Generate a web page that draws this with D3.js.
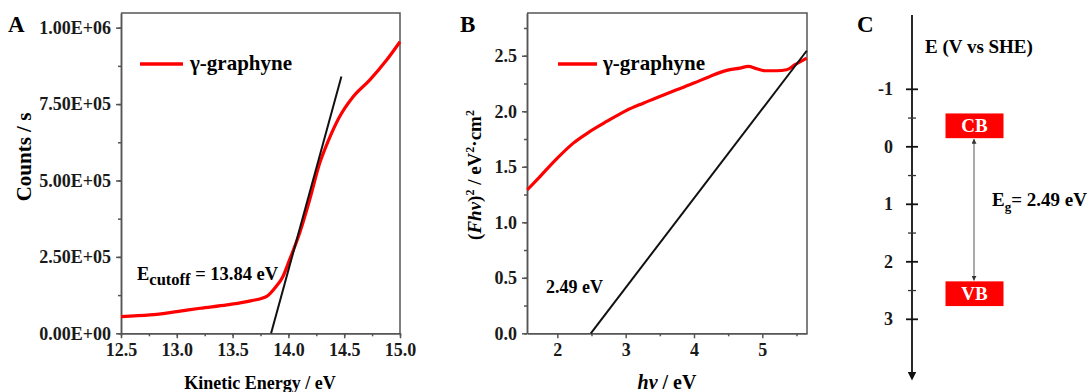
<!DOCTYPE html>
<html>
<head>
<meta charset="utf-8">
<script src="https://cdn.jsdelivr.net/npm/d3@7"></script>
<style>
  body { margin: 0; background: #fff; }
  svg { display: block; font-family: "Liberation Serif", "Times New Roman", serif; font-weight: bold; }
  svg text { font-family: "Liberation Serif", "Times New Roman", serif; font-weight: bold; }
</style>
</head>
<body>
<div id="chart"></div>
<script>
// Panel A: kinetic energy (eV) vs counts / s
const energyA = [12.5, 12.76, 13.0, 13.21, 13.45, 13.66, 13.81, 13.89, 13.95, 14.01, 14.10, 14.19, 14.28, 14.36, 14.45, 14.58, 14.73, 14.88, 15.0];
const countsA = [54500, 60000, 71000, 82000, 93000, 106000, 122000, 153000, 185000, 240000, 327000, 436000, 556000, 632000, 703000, 774000, 829000, 894000, 954000];
const fitA = [[13.845, 0], [14.475, 840000]];
const ticksYA = [0, 250000, 500000, 750000, 1000000];
const ticksXA = [12.5, 13.0, 13.5, 14.0, 14.5, 15.0];

// Panel B: hv (eV) vs (Fhv)^2
const energyB = [1.56, 1.746, 2.0, 2.234, 2.478, 2.722, 3.0, 3.259, 3.5, 3.746, 4.0, 4.234, 4.478, 4.673, 4.795, 4.917, 5.04, 5.21, 5.356, 5.478, 5.649];
const valueB = [1.292, 1.412, 1.578, 1.713, 1.818, 1.908, 2.004, 2.073, 2.133, 2.193, 2.254, 2.314, 2.368, 2.389, 2.404, 2.383, 2.365, 2.365, 2.374, 2.419, 2.479];
const fitB = [[2.49, 0], [5.65, 2.545]];
const ticksYB = [0, 0.5, 1.0, 1.5, 2.0, 2.5];
const ticksXB = [2, 3, 4, 5];

// Panel C: band positions (V vs SHE)
const ticksC = [-1, 0, 1, 2, 3];
const bands = [
  { label: "CB", top: -0.58, bottom: -0.15 },
  { label: "VB", top: 2.34, bottom: 2.77 }
];

const width = 1091, height = 392;
const axisColor = "#555";
const red = "#ff0000";

const svg = d3.select("#chart").append("svg")
    .attr("width", width)
    .attr("height", height)
    .attr("viewBox", [0, 0, width, height]);

// strip d3's default axis font so the serif style applies
function styleAxis(a) {
  a.attr("font-family", null).attr("font-size", null);
  a.selectAll("line,path").attr("stroke", axisColor).attr("stroke-width", 1.5);
  a.selectAll("text").attr("font-size", 18).attr("fill", "#1a1a1a");
}

function frame(x, y, xTicks, yTicks, xMinor, yMinor, xFormat, yFormat) {
  const [x0, x1] = x.range();
  const [y0, y1] = y.range();
  const g = svg.append("g");

  g.append("g")
      .attr("transform", `translate(0,${y0})`)
      .call(d3.axisBottom(x).tickValues(xMinor).tickSize(3).tickFormat("").tickSizeOuter(0))
      .call(styleAxis);
  g.append("g")
      .attr("transform", `translate(0,${y0})`)
      .call(d3.axisBottom(x).tickValues(xTicks).tickSize(5).tickPadding(5).tickFormat(xFormat).tickSizeOuter(0))
      .call(styleAxis);

  g.append("g")
      .attr("transform", `translate(${x0},0)`)
      .call(d3.axisLeft(y).tickValues(yMinor).tickSize(3).tickFormat("").tickSizeOuter(0))
      .call(styleAxis);
  g.append("g")
      .attr("transform", `translate(${x0},0)`)
      .call(d3.axisLeft(y).tickValues(yTicks).tickSize(5).tickPadding(5).tickFormat(yFormat).tickSizeOuter(0))
      .call(styleAxis);

  // top and right edges of the box
  g.append("path")
      .attr("d", `M${x0},${y1}H${x1}V${y0}`)
      .attr("fill", "none")
      .attr("stroke", axisColor)
      .attr("stroke-width", 1.5);
}

function legend(x, y, x2, tx) {
  svg.append("line")
      .attr("x1", x).attr("x2", x2).attr("y1", y).attr("y2", y)
      .attr("stroke", red).attr("stroke-width", 3.5);
  svg.append("text")
      .attr("x", tx).attr("y", y + 6)
      .attr("font-size", 21)
      .text("γ-graphyne");
}

function sci(d) {
  if (d === 0) return "0.00E+00";
  const e = Math.floor(Math.log10(d));
  return (d / Math.pow(10, e)).toFixed(2) + "E+" + String(e).padStart(2, "0");
}

// ---------- Panel A ----------
const xA = d3.scaleLinear([12.5, 15], [121, 400]);
const yA = d3.scaleLinear([0, 1.048e6], [333.3, 13]);
frame(xA, yA, ticksXA, ticksYA, d3.range(12.5, 15.01, 0.25), d3.range(0, 1.01e6, 125000), d3.format(".1f"), sci);

svg.append("path")
    .datum(energyA.map((e, i) => [e, countsA[i]]))
    .attr("fill", "none")
    .attr("stroke", red)
    .attr("stroke-width", 3.2)
    .attr("d", d3.line().x(d => xA(d[0])).y(d => yA(d[1])).curve(d3.curveMonotoneX));

svg.append("path")
    .attr("d", d3.line().x(d => xA(d[0])).y(d => yA(d[1]))(fitA))
    .attr("stroke", "#111").attr("stroke-width", 2).attr("fill", "none");

legend(140, 64, 183, 190);

const cut = svg.append("text").attr("x", 137).attr("y", 280).attr("font-size", 18.5);
cut.append("tspan").text("E");
cut.append("tspan").attr("dy", 5).attr("font-size", 16.5).text("cutoff");
cut.append("tspan").attr("dy", -5).text(" = 13.84 eV");

svg.append("text").attr("x", 8).attr("y", 32).attr("font-size", 23).text("A");
svg.append("text")
    .attr("transform", `translate(31,157) rotate(-90)`)
    .attr("text-anchor", "middle")
    .attr("font-size", 21)
    .text("Counts / s");
svg.append("text")
    .attr("x", 260).attr("y", 389)
    .attr("text-anchor", "middle")
    .attr("font-size", 18)
    .text("Kinetic Energy / eV");

// ---------- Panel B ----------
const xB = d3.scaleLinear([1.556, 5.654], [527, 807]);
const yB = d3.scaleLinear([0, 2.885], [333.3, 13]);
frame(xB, yB, ticksXB, ticksYB, [2.5, 3.5, 4.5, 5.5], d3.range(0, 2.8, 0.25), d3.format("d"), d3.format(".1f"));

svg.append("path")
    .datum(energyB.map((e, i) => [e, valueB[i]]))
    .attr("fill", "none")
    .attr("stroke", red)
    .attr("stroke-width", 3.2)
    .attr("d", d3.line().x(d => xB(d[0])).y(d => yB(d[1])).curve(d3.curveMonotoneX));

svg.append("path")
    .attr("d", d3.line().x(d => xB(d[0])).y(d => yB(d[1]))(fitB))
    .attr("stroke", "#111").attr("stroke-width", 2).attr("fill", "none");

legend(558, 64, 597, 603);

svg.append("text").attr("x", 546).attr("y", 293).attr("font-size", 18).text("2.49 eV");
svg.append("text").attr("x", 460).attr("y", 32).attr("font-size", 23).text("B");

const yt = svg.append("text")
    .attr("transform", `translate(481,175) rotate(-90)`)
    .attr("text-anchor", "middle")
    .attr("font-size", 19);
yt.append("tspan").text("(");
yt.append("tspan").attr("font-style", "italic").text("Fhv");
yt.append("tspan").text(")");
yt.append("tspan").attr("font-size", 12).attr("dy", -7).text("2");
yt.append("tspan").attr("dy", 7).text(" / eV");
yt.append("tspan").attr("font-size", 12).attr("dy", -7).text("2");
yt.append("tspan").attr("dy", 7).text("·cm");
yt.append("tspan").attr("font-size", 12).attr("dy", -7).text("2");

const xt = svg.append("text")
    .attr("x", 667).attr("y", 389)
    .attr("text-anchor", "middle")
    .attr("font-size", 20);
xt.append("tspan").attr("font-style", "italic").text("hv");
xt.append("tspan").text(" / eV");

// ---------- Panel C ----------
const yC = d3.scaleLinear([-1, 3], [89.3, 319.3]);
const axC = 912;

const defs = svg.append("defs");
defs.append("marker")
    .attr("id", "arrowDown")
    .attr("viewBox", "0 0 10 10")
    .attr("refX", 5).attr("refY", 5)
    .attr("markerWidth", 5).attr("markerHeight", 5)
    .attr("orient", "auto")
    .append("path").attr("d", "M0,0L10,5L0,10z").attr("fill", "#111");
defs.append("marker")
    .attr("id", "arrowSmall")
    .attr("viewBox", "0 0 10 10")
    .attr("refX", 9).attr("refY", 5)
    .attr("markerWidth", 5).attr("markerHeight", 5)
    .attr("orient", "auto-start-reverse")
    .append("path").attr("d", "M0,0L10,5L0,10z").attr("fill", "#333");

svg.append("line")
    .attr("x1", axC).attr("x2", axC)
    .attr("y1", 15).attr("y2", 376)
    .attr("stroke", "#111").attr("stroke-width", 1.8)
    .attr("marker-end", "url(#arrowDown)");

svg.append("g").selectAll("line")
    .data(ticksC)
    .join("line")
    .attr("x1", axC - 6).attr("x2", axC + 6)
    .attr("y1", d => yC(d)).attr("y2", d => yC(d))
    .attr("stroke", "#111").attr("stroke-width", 1.8);

svg.append("g").selectAll("line")
    .data(ticksC.slice(0, -1).map(d => d + 0.5))
    .join("line")
    .attr("x1", axC - 4).attr("x2", axC + 4)
    .attr("y1", d => yC(d)).attr("y2", d => yC(d))
    .attr("stroke", "#333").attr("stroke-width", 1.3);

svg.append("g").selectAll("text")
    .data(ticksC)
    .join("text")
    .attr("x", 893).attr("y", d => yC(d) + 6)
    .attr("text-anchor", "end")
    .attr("font-size", 18)
    .attr("fill", "#1a1a1a")
    .text(d => d);

svg.append("g").selectAll("rect")
    .data(bands)
    .join("rect")
    .attr("x", 945.5).attr("width", 58)
    .attr("y", d => yC(d.top))
    .attr("height", d => yC(d.bottom) - yC(d.top))
    .attr("fill", red);

svg.append("g").selectAll("text")
    .data(bands)
    .join("text")
    .attr("x", 974.5)
    .attr("y", d => (yC(d.top) + yC(d.bottom)) / 2 + 6.5)
    .attr("text-anchor", "middle")
    .attr("font-size", 19)
    .attr("fill", "#fff")
    .text(d => d.label);

svg.append("line")
    .attr("x1", 974).attr("x2", 974)
    .attr("y1", yC(bands[0].bottom) + 1).attr("y2", yC(bands[1].top) - 1)
    .attr("stroke", "#555").attr("stroke-width", 1)
    .attr("marker-start", "url(#arrowSmall)")
    .attr("marker-end", "url(#arrowSmall)");

const eg = svg.append("text").attr("x", 992).attr("y", 206).attr("font-size", 19);
eg.append("tspan").text("E");
eg.append("tspan").attr("font-size", 13).attr("dy", 5).text("g");
eg.append("tspan").attr("dy", -5).text("= 2.49 eV");

svg.append("text").attr("x", 857).attr("y", 32).attr("font-size", 23).text("C");
svg.append("text").attr("x", 925).attr("y", 53).attr("font-size", 19).text("E (V vs SHE)");
</script>
</body>
</html>
